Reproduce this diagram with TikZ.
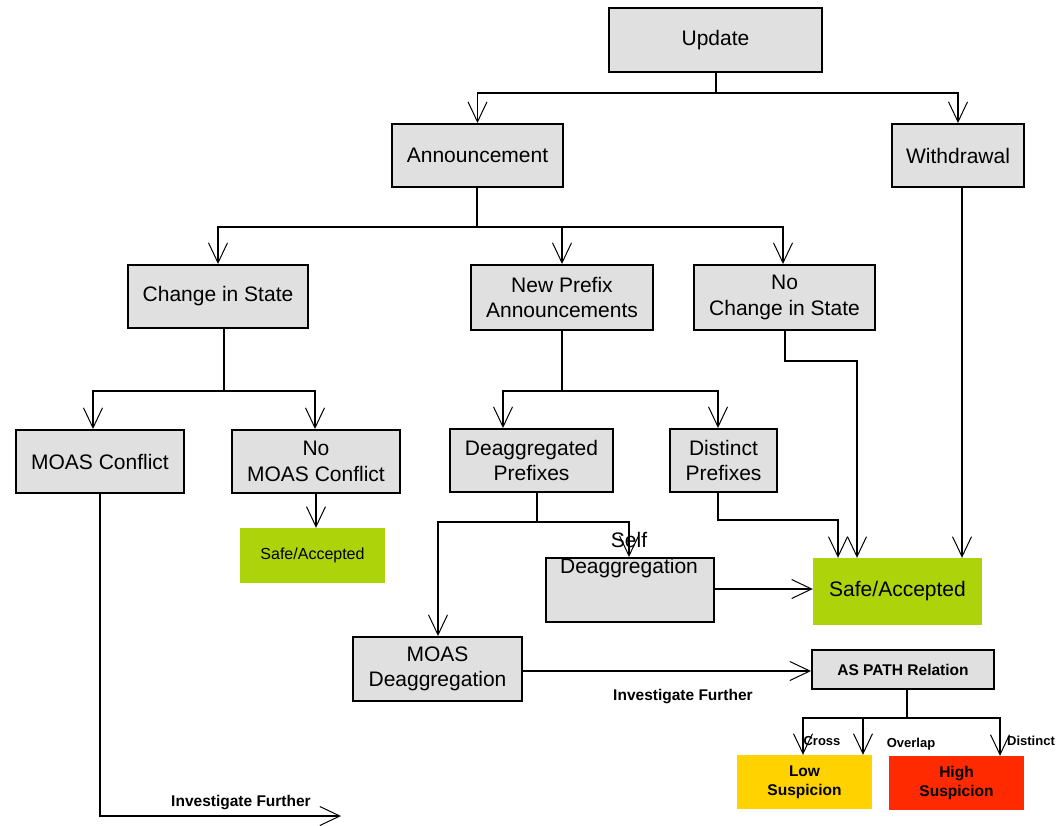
\documentclass[tikz,border=0pt]{standalone}
\usepackage{fontspec}
\setmainfont{Liberation Sans}
\usetikzlibrary{arrows.meta}
\definecolor{boxgray}{RGB}{224,224,224}
\definecolor{safegreen}{RGB}{173,212,10}
\definecolor{lowyellow}{RGB}{255,210,0}
\definecolor{highred}{RGB}{255,42,0}
\newcommand{\mainsize}{\fontsize{21}{25.5}\selectfont}
\newcommand{\smallsize}{\fontsize{15.5}{19}\selectfont}
\tikzset{
  box/.style={draw=black, line width=2pt, fill=boxgray, inner sep=0pt,
    align=center, font=\mainsize},
  result/.style={draw=none, inner sep=0pt, align=center},
  conn/.style={draw=black, line width=1.6pt},
  arr/.style={conn, -{Straight Barb[length=20pt,width=19pt,line width=1pt]}},
  lbl/.style={inner sep=0pt, font=\smallsize\bfseries},
  tinylbl/.style={inner sep=0pt, font=\fontsize{13}{15}\selectfont\bfseries},
}
\begin{document}
\begin{tikzpicture}[x=1pt,y=-1pt]
\useasboundingbox[fill=white] (0,0) rectangle (1062,825);

% decision boxes
\node[box, minimum width=213pt, minimum height=64pt] (update) at (715.5,40) {Update};
\node[box, minimum width=171pt, minimum height=63pt] (ann) at (477.5,155.5) {Announcement};
\node[box, minimum width=132pt, minimum height=63pt] (wd) at (958,155.5) {Withdrawal};
\node[box, minimum width=180pt, minimum height=63pt] (cis) at (218,296.5) {Change in State};
\node[box, minimum width=182pt, minimum height=65pt] (npa) at (562,297.5) {New Prefix\\Announcements};
\node[box, minimum width=181pt, minimum height=65pt] (ncis) at (784.5,297.5) {No\\Change in State};
\node[box, minimum width=168pt, minimum height=63pt] (moas) at (100,461.5) {MOAS Conflict};
\node[box, minimum width=168pt, minimum height=63pt] (nomoas) at (316,461.5) {No\\MOAS Conflict};
\node[box, minimum width=163pt, minimum height=63pt] (deagg) at (531.5,460.5) {Deaggregated\\Prefixes};
\node[box, minimum width=107pt, minimum height=63pt] (dist) at (723.5,460.5) {Distinct\\Prefixes};
\node[box, minimum width=168pt, minimum height=64pt] (self) at (630,590) {};
\node[result, font=\mainsize] (selftext) at (629,555) {Self\\Deaggregation};
\node[box, minimum width=169pt, minimum height=64pt] (moasd) at (437.5,669) {MOAS\\Deaggregation};
\node[box, font=\smallsize\bfseries, minimum width=182pt, minimum height=39pt] (asp) at (903,669.5) {AS PATH Relation};

% outcome boxes
\node[result, fill=safegreen, font=\fontsize{16}{19}\selectfont, minimum width=145pt, minimum height=55pt] (safe1) at (312.5,555.5) {Safe/Accepted};
\node[result, fill=safegreen, font=\mainsize, minimum width=169pt, minimum height=67pt] (safe2) at (897.5,591.5) {Safe/Accepted};
\node[result, fill=lowyellow, font=\smallsize\bfseries, minimum width=135pt, minimum height=54pt] (low) at (804.5,782) {Low\\Suspicion};
\node[result, fill=highred, font=\smallsize\bfseries, minimum width=135pt, minimum height=54pt] (high) at (956.5,783) {High\\Suspicion};

% Update -> Announcement / Withdrawal
\coordinate (j1) at (716,93);
\draw[conn] (update.south -| j1) -- (j1);
\draw[arr] (j1) -| (ann);
\draw[arr] (j1) -| (wd);

% Announcement -> three kinds
\coordinate (j2) at (477,227);
\draw[conn] (ann.south -| j2) -- (j2);
\draw[arr] (j2) -| (cis);
\draw[arr] (j2) -| (npa);
\coordinate (a1) at (783,227);
\draw[arr] (j2) -- (a1) -- (a1 |- ncis.north);

% Change in State -> MOAS / No MOAS
\coordinate (j3) at (224,391);
\coordinate (a2) at (93,391);
\coordinate (a3) at (315,391);
\draw[conn] (cis.south -| j3) -- (j3);
\draw[arr] (j3) -- (a2) -- (a2 |- moas.north);
\draw[arr] (j3) -- (a3) -- (a3 |- nomoas.north);
\coordinate (a4) at (316,493);
\draw[arr] (nomoas.south -| a4) -- (a4 |- safe1.north);

% MOAS Conflict -> investigate
\coordinate (inv1) at (341,816);
\draw[arr] (moas.south) |- (inv1);
\node[lbl] (invlbl1) at (241,803) {Investigate Further};

% New Prefix -> Deaggregated / Distinct
\coordinate (j4) at (562,391);
\coordinate (a5) at (503,391);
\coordinate (a6) at (718,391);
\draw[conn] (npa.south -| j4) -- (j4);
\draw[arr] (j4) -- (a5) -- (a5 |- deagg.north);
\draw[arr] (j4) -- (a6) -- (a6 |- dist.north);

% Deaggregated -> MOAS Deaggregation / Self Deaggregation
\coordinate (j5) at (537,522);
\coordinate (a7) at (438,522);
\coordinate (a8) at (629,522);
\draw[conn] (deagg.south -| j5) -- (j5);
\draw[arr] (j5) -- (a7) -- (a7 |- moasd.north);
\draw[arr] (j5) -- (a8) -- (a8 |- self.north);

% paths into Safe/Accepted
\coordinate (b1) at (718,520);
\coordinate (b2) at (838,520);
\draw[arr] (dist.south -| b1) -- (b1) -- (b2) -- (b2 |- safe2.north);
\coordinate (b3) at (785,361);
\coordinate (b4) at (857,361);
\draw[arr] (ncis.south -| b3) -- (b3) -- (b4) -- (b4 |- safe2.north);
\coordinate (b5) at (962,200);
\draw[arr] (wd.south -| b5) -- (b5 |- safe2.north);
\coordinate (b6) at (700,589);
\draw[arr] (self.east |- b6) -- (safe2.west |- b6);

% MOAS Deaggregation -> AS PATH Relation
\coordinate (b7) at (600,671);
\draw[arr] (moasd.east |- b7) -- (asp.west |- b7);
\node[lbl] (invlbl2) at (683,697) {Investigate Further};

% AS PATH Relation -> suspicion levels
\coordinate (j6) at (907,718);
\coordinate (c1) at (803,718);
\coordinate (c2) at (863,718);
\coordinate (c3) at (1000,718);
\draw[conn] (asp.south -| j6) -- (j6);
\draw[arr] (j6) -- (c1) -- (c1 |- low.north);
\draw[arr] (c2) -- (c2 |- low.north);
\draw[arr] (j6) -- (c3) -- (c3 |- high.north);
\node[tinylbl] (cross) at (822,741) {Cross};
\node[tinylbl] (overlap) at (911,744) {Overlap};
\node[tinylbl] (distinct) at (1031,741) {Distinct};
\end{tikzpicture}
\end{document}
